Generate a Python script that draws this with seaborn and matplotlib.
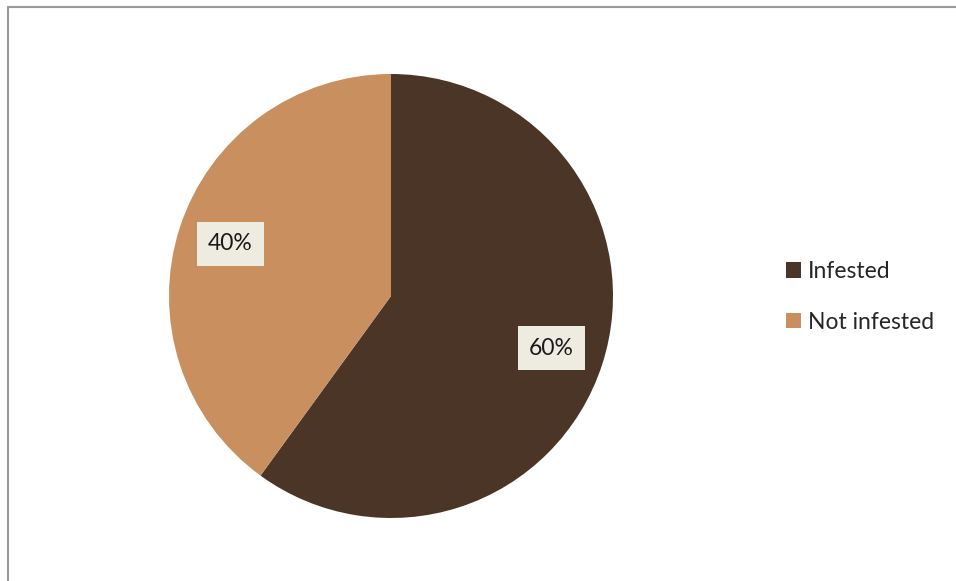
import matplotlib
matplotlib.use("Agg")
import matplotlib.pyplot as plt
import seaborn as sns
from matplotlib.patches import Patch
from matplotlib.lines import Line2D

categories = ["Infested", "Not infested"]
values = [60, 40]
colors = ["#4b3526", "#c98f5f"]

sns.set_theme(style="white")
plt.rcParams['font.family'] = ['Lato', 'DejaVu Sans']

fig = plt.figure(figsize=(9.56, 5.81), dpi=100)
fig.patch.set_facecolor("white")

ax = fig.add_axes([169/956, 63/581, 444/956, 444/581])
wedges, texts, autotexts = ax.pie(
    values, colors=colors, startangle=90, counterclock=False,
    autopct=lambda p: f"{p:.0f}%", pctdistance=0.76, radius=1,
    wedgeprops=dict(linewidth=0),
    textprops=dict(fontsize=16.5, color="#1a1a1a"),
)
for t in autotexts:
    t.set_bbox(dict(boxstyle="square,pad=0.5", facecolor="#eeebe0", edgecolor="none"))
ax.set_xlim(-1, 1)
ax.set_ylim(-1, 1)
ax.set_aspect("equal")
ax.axis("off")

handles = [Patch(facecolor=c, edgecolor="none") for c in colors]
fig.legend(handles, categories, loc="center left",
           bbox_to_anchor=(777/956, (581-297)/581), frameon=False,
           fontsize=16.5, handlelength=0.65, handleheight=0.65,
           handletextpad=0.3, labelspacing=1.3, borderaxespad=0)

# outer frame (top and left edges visible)
fig.add_artist(Line2D([7.5/956, 1], [1-7/581, 1-7/581], transform=fig.transFigure,
                      color="#9a9a9a", linewidth=1.5))
fig.add_artist(Line2D([7.5/956, 7.5/956], [0, 1-7/581], transform=fig.transFigure,
                      color="#9a9a9a", linewidth=1.5))

fig.savefig("out.png", dpi=100, facecolor="white")
